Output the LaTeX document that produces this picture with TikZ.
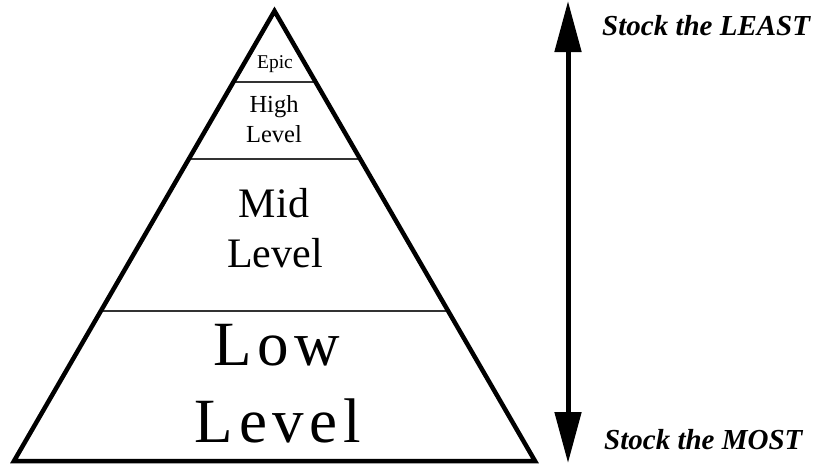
\documentclass[tikz,border=0pt]{standalone}
\usepackage{fontspec}
\setmainfont{Liberation Serif}
\usetikzlibrary{arrows.meta}
\begin{document}
\begin{tikzpicture}[x=1pt,y=-1pt,
  outline/.style={line width=4.5pt,line join=miter},
  divider/.style={line width=1.4pt,black!80},
  lbl/.style={anchor=base,inner sep=0pt},
  stock/.style={anchor=base west,inner sep=0pt,font=\fontsize{29}{32}\selectfont\bfseries\itshape},
  arr/.style={line width=5pt,{Triangle[length=51pt,width=26pt]}-{Triangle[length=51pt,width=26pt]}}]
\useasboundingbox (0,0) rectangle (818,466);
\coordinate (apex) at (274.5,11);
\coordinate (bl) at (14,461);
\coordinate (br) at (535,461);
% divider lines
\foreach \yy/\nm in {82/d1,159/d2,311/d3}{
  \pgfmathsetmacro{\hw}{0.578889*(\yy-11)}
  \coordinate (\nm l) at (274.5-\hw,\yy);
  \coordinate (\nm r) at (274.5+\hw,\yy);
  \draw[divider] (\nm l) -- (\nm r);
}
\draw[outline] (apex) -- (bl) -- (br) -- cycle;
% labels
\node[lbl,font=\fontsize{19.5}{22}\selectfont] (epic) at (275,68) {Epic};
\node[lbl,font=\fontsize{24.5}{28}\selectfont] (high1) at (274,112) {High};
\node[lbl,font=\fontsize{24.5}{28}\selectfont] (high2) at (274,142) {Level};
\node[lbl,font=\fontsize{42}{48}\selectfont] (mid1) at (274,217) {Mid};
\node[lbl,font=\fontsize{42}{48}\selectfont] (mid2) at (275,267) {Level};
\node[lbl,font=\fontsize{63}{70}\selectfont\addfontfeature{LetterSpace=9}] (low1) at (277,365) {Low};
\node[lbl,font=\fontsize{63}{70}\selectfont\addfontfeature{LetterSpace=9}] (low2) at (278,442) {Level};
% arrow
\coordinate (atop) at (568,1);
\coordinate (abot) at (568,463);
\draw[arr] (atop) -- (abot);
\node[stock] (least) at (602,35) {Stock the LEAST};
\node[stock] (most) at (604,449) {Stock the MOST};
\end{tikzpicture}
\end{document}
